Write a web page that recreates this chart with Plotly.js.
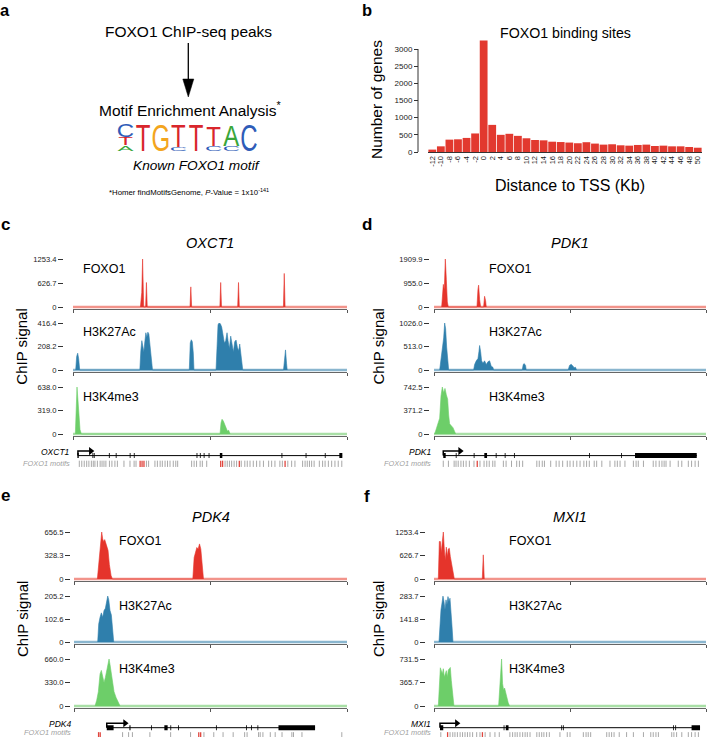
<!DOCTYPE html>
<html><head><meta charset="utf-8">
<script src="https://cdn.plot.ly/plotly-3.0.1.min.js"></script>
<style>html,body{margin:0;padding:0;background:#fff}#chart{width:707px;height:737px}</style>
</head><body><div id="chart"></div>
<script>
// ================= DATA =================
// Panel b: FOXO1 binding sites vs distance to TSS
const tssBins = [-12,-10,-8,-6,-4,-2,0,2,4,6,8,10,12,14,16,18,20,22,24,26,28,30,32,34,36,38,40,42,44,46,48,50];
const geneCounts = [70,165,360,370,410,540,3250,790,500,530,470,400,350,340,300,290,275,255,285,245,215,225,195,185,205,215,175,185,165,165,145,125];
const countTicks = [0,500,1000,1500,2000,2500,3000];

// Panel a: motif logo (column, letter, bottom in bits, height in bits)
const logoCol    = [1,1,1,2,3,4,4,5,6,6,7,7,8];
const logoLetter = ['A','T','C','T','G','C','T','T','C','T','C','A','C'];
const logoBottom = [0,0.4,1.0,0,0,0,0.3,0,0,0.4,0,0.35,0];
const logoHeight = [0.4,0.6,0.95,2.0,2.0,0.3,1.65,1.95,0.35,1.5,0.35,1.6,2.0];

// Track names
const trackNames = ['FOXO1','H3K27Ac','H3K4me3'];

// ---- OXCT1 ----
const oxct1Max = [1253.4, 416.4, 638.0];
const oxct1Ticks = [['0','626.7','1253.4'],['0','208.2','416.4'],['0','319.0','638.0']];
const oxct1FoxoX = [24.6,25.1,25.4,25.8,26.5,26.8,27.1,42.7,43.0,43.3,53.6,53.9,54.2,60.1,60.4,60.7,76.8,77.1,77.4];
const oxct1FoxoY = [0,380,1253,0,0,640,0,0,526,0,0,640,0,0,640,0,0,876,0];
const oxct1K27X = [0.98,1.34,1.71,2.07,2.44, 24.39,24.76,25.12,25.49,25.85,26.22,26.59,26.95,27.32,27.68,28.05,28.41,28.78,29.02, 42.44,42.80,43.17,43.54,43.90,44.15, 52.20,52.56,52.93,53.29,53.78,54.27,54.76,55.24,55.73,56.22,56.59,57.07,57.56,58.05,58.54,59.02,59.51,60.00,60.49,60.85,61.22,61.59,61.95, 76.83,77.20,77.56,77.93,78.17];
const oxct1K27Y = [0,120,149,100,0, 0,170,260,210,160,250,330,290,335,320,240,190,110,0, 0,240,268,250,150,0, 0,250,400,416,410,380,300,240,260,330,260,190,300,220,160,250,265,200,170,230,130,70,0, 0,130,178,60,0];
const oxct1K4X = [0.85,1.10,1.46,1.83,2.20,2.56,3.05, 53.66,54.02,54.39,54.88,55.37,55.85,56.34,56.83,57.32];
const oxct1K4Y = [0,300,638,450,200,60,0, 0,150,200,175,130,80,40,50,0];
const oxct1Span = [1.8, 98.2];
const oxct1TssEnd = 6.5;
const oxct1ExonStart = [1.6,7.1,7.6,13.1,15.6,20.7,22.2,45.1,46.3,47.7,49.5,53.6,76.1,84.9,91.9,97.2];
const oxct1ExonEnd   = [2.1,7.4,7.9,13.4,15.9,21.0,22.5,45.4,46.6,48.0,49.8,54.5,76.4,85.2,92.2,98.3];
const oxct1Motifs = [2.3,3.2,4.1,5.0,5.8,6.7,7.4,8.0,8.9,9.9,10.6,11.3,12.0,13.3,14.2,15.3,16.2,18.6,20.8,22.3,23.0,26.8,27.6,29.9,30.8,31.8,32.6,33.6,34.5,35.4,36.6,37.5,38.2,43.3,44.2,45.1,46.4,47.2,48.8,55.5,56.3,57.1,57.9,58.8,59.7,61.4,62.7,63.6,64.6,65.8,67.0,68.2,69.5,71.4,72.5,73.7,75.5,76.4,78.4,79.8,81.0,83.8,84.7,85.5,86.3,87.1,88.0,89.9,91.1,92.0,93.2,94.4,95.6,96.8,98.1];
const oxct1MotifsTop = [24.5,25.2,25.9,53.9,54.6,60.7,77.4];

// ---- PDK1 ----
const pdk1Max = [1909.9, 1026.0, 742.5];
const pdk1Ticks = [['0','955.0','1909.9'],['0','513.0','1026.0'],['0','371.2','742.5']];
const pdk1FoxoX = [2.82,3.18,3.43,3.79,4.16,4.53,4.90,5.26, 15.79,16.16,16.40,16.77,17.14, 18.24,18.60,18.97,19.22];
const pdk1FoxoY = [0,600,900,700,1909,1100,200,0, 0,700,870,300,0, 0,427,250,0];
const pdk1K27X = [2.08,2.57,3.06,3.55,3.92,4.28,4.65,5.02,5.39, 14.57,14.93,15.54,16.16,16.52,16.77,17.14,17.50,17.99,18.60,19.22,19.83,20.44,21.05,21.66,21.91, 32.44,32.80,33.17,33.66,33.90, 49.33,49.82,50.43,51.04,51.53,52.02,52.39];
const pdk1K27Y = [0,200,400,700,1026,900,500,200,0, 0,120,200,250,400,535,400,200,150,200,120,180,200,80,60,0, 0,120,140,100,0, 0,100,125,90,50,60,0];
const pdk1K4X = [0.24,0.86,1.47,2.08,2.57,3.06,3.55,4.04,4.53,5.02,5.39,5.75,6.36,6.98,7.59,7.96];
const pdk1K4Y = [0,80,150,250,600,742,650,720,620,550,300,160,130,100,40,0];
const pdk1Span = [3.4, 96.6];
const pdk1TssEnd = 9.6;
const pdk1ExonStart = [3.4,8.0,14.6,18.5,22.7,26.0,29.4,57.0,68.8,73.9];
const pdk1ExonEnd   = [4.3,8.3,14.9,19.5,23.0,26.3,29.7,57.3,69.1,96.6];
const pdk1Motifs = [3.4,5.3,7.4,8.1,8.9,9.9,10.8,11.8,13.0,14.7,16.9,18.4,19.4,20.3,21.6,22.4,25.5,26.5,28.5,30.4,31.4,32.6,37.8,38.7,39.8,40.6,42.9,44.9,46.0,47.3,49.0,50.0,51.2,52.5,53.7,55.1,56.1,57.1,58.9,59.8,61.7,64.7,66.5,67.4,68.4,70.2,73.3,74.3,75.1,77.0,80.6,81.6,82.8,83.8,84.6,85.3,86.8,89.8,91.1,93.5,94.7,96.0,97.2];
const pdk1MotifsTop = [15.9];

// ---- PDK4 ----
const pdk4Max = [656.5, 205.2, 660.0];
const pdk4Ticks = [['0','328.3','656.5'],['0','102.6','205.2'],['0','330.0','660.0']];
const pdk4FoxoX = [8.56,9.05,9.41,9.78,10.15,10.51,10.88,11.25,11.61,11.98,12.47,12.96,13.57,14.06, 43.52,44.01,44.50,44.99,45.48,45.97,46.45,46.94,47.43];
const pdk4FoxoY = [0,200,400,500,656,560,520,550,500,480,400,200,50,0, 0,300,380,440,420,490,420,200,0];
const pdk4K27X = [8.68,9.05,9.54,10.02,10.51,11.00,11.49,11.98,12.35,12.71,13.20,13.69,14.18,14.55];
const pdk4K27Y = [0,80,110,130,110,140,150,180,205,190,140,120,50,0];
const pdk4K4X = [7.70,8.31,8.92,9.54,10.02,10.51,11.00,11.49,11.98,12.47,12.84,13.20,13.69,14.18,14.67,15.40,16.14,16.87];
const pdk4K4Y = [0,80,200,450,500,420,330,400,500,600,660,580,450,300,200,120,60,0];
const pdk4Span = [12.0, 88.3];
const pdk4TssEnd = 18.7;
const pdk4ExonStart = [12.0,20.3,28.2,33.1,35.3,38.1,52.0,63.0,64.9,67.2,74.9];
const pdk4ExonEnd   = [14.5,20.7,28.5,34.3,35.6,38.4,52.3,63.3,65.2,67.5,88.3];
const pdk4Motifs = [17.8,20.0,21.4,27.8,35.4,42.7,47.6,51.2,54.6,58.3,62.5,63.4,67.6,68.2,69.2,71.9,73.7,76.2,79.8,80.4,83.5,98.1];
const pdk4MotifsTop = [9.0,9.6,45.7,46.4];

// ---- MXI1 ----
const mxi1Max = [1253.4, 283.7, 731.5];
const mxi1Ticks = [['0','626.7','1253.4'],['0','141.8','283.7'],['0','365.7','731.5']];
const mxi1FoxoX = [1.59,1.96,2.33,2.69,3.06,3.43,3.79,4.16,4.53,4.90,5.26,5.63,6.00,6.49,6.98,7.47, 17.75,18.12,18.48];
const mxi1FoxoY = [0,1000,1000,700,1000,1253,800,500,850,600,800,820,600,400,150,0, 0,644,0];
const mxi1K27X = [1.84,2.20,2.57,2.94,3.30,3.67,4.04,4.41,4.77,5.14,5.51,5.88,6.24,6.61,6.98];
const mxi1K27Y = [0,150,200,240,283,250,200,260,230,280,250,270,200,100,0];
const mxi1K4X = [1.59,1.96,2.33,2.69,3.06,3.43,3.79,4.16,4.53,4.90,5.26,5.63,6.00,6.36,6.85,7.34, 23.75,24.11,24.48,24.85,25.21,25.58,25.95,26.32,26.81,27.29,27.78];
const mxi1K4Y = [0,450,595,550,500,580,450,500,550,450,560,580,600,400,150,0, 0,200,500,731,350,250,280,200,100,50,0];
const mxi1Span = [2.2, 97.8];
const mxi1TssEnd = 8.4;
const mxi1ExonStart = [2.2,25.6,26.4,46.8,47.4,87.9,88.7,94.7];
const mxi1ExonEnd   = [3.4,25.9,27.4,47.1,47.7,88.2,89.0,97.8];
const mxi1Motifs = [2.5,5.9,6.9,7.7,8.6,9.6,10.5,11.4,12.3,13.2,14.2,15.7,16.9,18.8,20.6,22.4,24.0,27.9,28.9,29.8,30.6,31.6,32.6,33.5,34.3,35.3,37.8,38.7,39.6,40.4,41.4,42.4,46.3,49.0,50.0,54.9,55.9,56.7,57.6,63.5,64.4,65.3,66.2,68.1,70.8,73.3,77.0,79.7,80.6,81.6,82.5,87.4,88.2,89.2,91.1,93.5,94.7,96.0,97.2];
const mxi1MotifsTop = [5.0,17.8];

// ================= STYLE / LAYOUT =================
const FONT = '"Liberation Sans", Arial, Helvetica, sans-serif';
const W = 707, H = 737;
const px2x = p => Math.max(0, Math.min(1, p / W));
const px2y = p => Math.max(0, Math.min(1, 1 - p / H));
const TRACK_COL = ['#e5342b', '#2f7fac', '#6dce69'];
const BASE_COL = ['#f2948b', '#8ab6cf', '#a9dfa6'];
const LOGO_COL = {A:'#3aa63a', C:'#2f5cb8', G:'#f3a51d', T:'#d9262c'};

const traces = [];
const layout = {
  width: W, height: H, margin: {l:0, r:0, t:0, b:0}, showlegend: false,
  paper_bgcolor: '#fff', plot_bgcolor: 'rgba(0,0,0,0)',
  font: {family: FONT, color: '#000'}, annotations: [], shapes: []
};
let nAx = 0;
function newAxes(xDom, yDom, xOpt, yOpt) {
  nAx++;
  const s = nAx === 1 ? '' : String(nAx);
  layout['xaxis' + s] = Object.assign({domain: [px2x(xDom[0]), px2x(xDom[1])], anchor: 'y' + s,
    showgrid: false, zeroline: false, fixedrange: true, automargin: false}, xOpt);
  layout['yaxis' + s] = Object.assign({domain: [px2y(yDom[1]), px2y(yDom[0])], anchor: 'x' + s,
    showgrid: false, zeroline: false, fixedrange: true, automargin: false}, yOpt);
  return {xaxis: 'x' + s, yaxis: 'y' + s};
}
function txt(text, x, base, size, o) {
  o = o || {};
  const a = {text: text, xref: 'paper', yref: 'paper', showarrow: false, borderpad: 0,
    x: x / W, y: 1 - (o.angle ? base : base - 0.35 * size) / H,
    xanchor: o.anchor || 'center', yanchor: 'middle',
    font: {family: FONT, size: size, color: o.color || '#000', style: o.italic ? 'italic' : 'normal', weight: o.bold ? 'bold' : 'normal'}};
  if (o.angle) a.textangle = o.angle;
  layout.annotations.push(a);
}

// ---------- Panel b: bar chart ----------
{
  const ax = newAxes([428, 702], [40, 152],
    {range: [-13, 51], showline: true, linecolor: '#333', linewidth: 1, ticks: '',
     tickvals: tssBins, ticktext: tssBins.map(String), tickangle: -90, tickfont: {size: 7.5, color: '#222'}},
    {range: [0, 3262], anchor: 'free', position: 418 / W, showline: false, ticks: 'outside', ticklen: 4,
     tickcolor: '#333', tickvals: countTicks, ticktext: countTicks.map(String), tickfont: {size: 8, color: '#222'}});
  traces.push({type: 'bar', x: tssBins, y: geneCounts, width: 1.82, marker: {color: '#e2392f'},
    xaxis: ax.xaxis, yaxis: ax.yaxis, hoverinfo: 'skip'});
  layout.shapes.push({type: 'line', xref: 'paper', yref: ax.yaxis, x0: 418 / W, x1: 418 / W,
    y0: countTicks[0], y1: countTicks[countTicks.length - 1], line: {color: '#333', width: 1}});
  txt('b', 367, 15.5, 16.5, {bold: true});
  txt('FOXO1 binding sites', 565, 37.5, 14.2);
  txt('Number of genes', 376, 100, 15.5, {angle: -90});
  txt('Distance to TSS (Kb)', 570, 191.5, 16);
}

// ---------- Panel a: flow + motif logo ----------
const LOGO_FS = 24, PX_PER_BIT = 13.5, CAP = 0.716;
{
  txt('a', 5, 15.5, 16.5, {bold: true});
  txt('FOXO1 ChIP-seq peaks', 188.5, 36.5, 15.5);
  layout.shapes.push({type: 'line', xref: 'paper', yref: 'paper', x0: 188.3 / W, x1: 188.3 / W,
    y0: 1 - 43 / H, y1: 1 - 81 / H, line: {color: '#000', width: 1.3}});
  layout.shapes.push({type: 'path', xref: 'paper', yref: 'paper',
    path: 'M ' + (182.8 / W) + ' ' + (1 - 79 / H) + ' L ' + (193.8 / W) + ' ' + (1 - 79 / H) + ' L ' + (188.3 / W) + ' ' + (1 - 97 / H) + ' Z',
    fillcolor: '#000', line: {color: '#000', width: 0.5}});
  txt('Motif Enrichment Analysis<sup>*</sup>', 190, 114.4, 15.5);
  const ax = newAxes([116.7, 257.8], [125, 152], {range: [0.5, 8.5], visible: false}, {range: [0, 2], visible: false});
  traces.push({type: 'scatter', mode: 'text', x: logoCol, y: logoBottom,
    text: logoLetter, textposition: 'middle center', cliponaxis: false,
    textfont: {size: LOGO_FS, family: FONT, color: logoLetter.map(l => LOGO_COL[l])},
    xaxis: ax.xaxis, yaxis: ax.yaxis, hoverinfo: 'skip'});
  txt('Known FOXO1 motif', 196, 170.5, 13.7, {italic: true});
  txt('*Homer findMotifsGenome, <i>P</i>-Value = 1x10<sup>-141</sup>', 189, 194.5, 7.8);
}

// ---------- Panels c-f: ChIP tracks ----------
const panels = [
  {name: 'OXCT1', letter: 'c', x0: 73, x1: 347, axisX: 63, letterX: 5, letterBase: 230, titleX: 210, titleBase: 248.3,
   chipX: 22, chipY: 346.7, labelX: 81.7, tops: [259, 323, 387], zeros: [307, 370, 434], labBases: [273.3, 336.7, 401.5],
   geneY: 455.6, motifY: 463.8, nameRight: 71,
   maxes: oxct1Max, ticks: oxct1Ticks, xs: [oxct1FoxoX, oxct1K27X, oxct1K4X], ys: [oxct1FoxoY, oxct1K27Y, oxct1K4Y],
   span: oxct1Span, tss: oxct1TssEnd, exS: oxct1ExonStart, exE: oxct1ExonEnd, motifs: oxct1Motifs, motifsTop: oxct1MotifsTop},
  {name: 'PDK1', letter: 'd', x0: 434, x1: 706, axisX: 429, letterX: 367, letterBase: 230, titleX: 570, titleBase: 248.3,
   chipX: 378, chipY: 346.5, labelX: 488, tops: [259, 323, 387], zeros: [307, 370, 434], labBases: [273.3, 336.7, 401.5],
   geneY: 455.6, motifY: 463.8, nameRight: 432,
   maxes: pdk1Max, ticks: pdk1Ticks, xs: [pdk1FoxoX, pdk1K27X, pdk1K4X], ys: [pdk1FoxoY, pdk1K27Y, pdk1K4Y],
   span: pdk1Span, tss: pdk1TssEnd, exS: pdk1ExonStart, exE: pdk1ExonEnd, motifs: pdk1Motifs, motifsTop: pdk1MotifsTop},
  {name: 'PDK4', letter: 'e', x0: 74, x1: 347, axisX: 70, letterX: 5, letterBase: 501, titleX: 211, titleBase: 521.7,
   chipX: 22, chipY: 619, labelX: 118.3, tops: [532, 596, 659], zeros: [579, 642, 706], labBases: [545, 610, 673.3],
   geneY: 727.7, motifY: 735.3, nameRight: 72,
   maxes: pdk4Max, ticks: pdk4Ticks, xs: [pdk4FoxoX, pdk4K27X, pdk4K4X], ys: [pdk4FoxoY, pdk4K27Y, pdk4K4Y],
   span: pdk4Span, tss: pdk4TssEnd, exS: pdk4ExonStart, exE: pdk4ExonEnd, motifs: pdk4Motifs, motifsTop: pdk4MotifsTop},
  {name: 'MXI1', letter: 'f', x0: 434, x1: 706, axisX: 425, letterX: 367, letterBase: 502, titleX: 570, titleBase: 521.7,
   chipX: 378, chipY: 619, labelX: 508, tops: [532, 596, 659], zeros: [579, 642, 706], labBases: [545, 610, 673.3],
   geneY: 727.7, motifY: 735.3, nameRight: 432,
   maxes: mxi1Max, ticks: mxi1Ticks, xs: [mxi1FoxoX, mxi1K27X, mxi1K4X], ys: [mxi1FoxoY, mxi1K27Y, mxi1K4Y],
   span: mxi1Span, tss: mxi1TssEnd, exS: mxi1ExonStart, exE: mxi1ExonEnd, motifs: mxi1Motifs, motifsTop: mxi1MotifsTop}
];

panels.forEach(p => {
  txt(p.letter, p.letterX, p.letterBase, 17, {bold: true});
  txt(p.name, p.titleX, p.titleBase, 14.5, {italic: true});
  txt('ChIP signal', p.chipX, p.chipY, 15, {angle: -90});
  for (let k = 0; k < 3; k++) {
    const mx = p.maxes[k];
    const gap = 2;
    const pad = gap / (p.zeros[k] - p.tops[k]) * mx;
    const ax = newAxes([p.x0, p.x1], [p.tops[k], p.zeros[k] + gap],
      {range: [0, 100], showline: true, linecolor: '#666', linewidth: 1.4, ticks: 'outside', ticklen: 3,
       tickwidth: 1, tickcolor: '#555', tickvals: [0, 50, 100], showticklabels: false},
      {range: [-pad, mx], anchor: 'free', position: p.axisX / W, showline: false, ticks: 'outside', ticklen: 5,
       tickwidth: 1, tickcolor: '#333', tickvals: [0, mx / 2, mx], ticktext: p.ticks[k],
       tickfont: {size: 7.6, color: '#222'}});
    traces.push({type: 'scatter', mode: 'lines', x: [0, 100], y: [0, 0],
      line: {color: BASE_COL[k], width: 2.4}, xaxis: ax.xaxis, yaxis: ax.yaxis, hoverinfo: 'skip'});
    traces.push({type: 'scatter', mode: 'lines', x: p.xs[k], y: p.ys[k], fill: 'tozeroy',
      fillcolor: TRACK_COL[k], line: {color: TRACK_COL[k], width: 0.6},
      xaxis: ax.xaxis, yaxis: ax.yaxis, hoverinfo: 'skip'});
    txt(trackNames[k], p.labelX, p.labBases[k], 12.5, {anchor: 'left'});
  }
  // gene model + motifs
  const T = p.geneY - 8, B = Math.min(p.motifY + 4, H);
  const yOf = px => (p.motifY - px) / (p.motifY - p.geneY);
  const ax = newAxes([p.x0, p.x1], [T, B], {range: [0, 100], visible: false}, {range: [yOf(B), yOf(T)], visible: false});
  const common = {xaxis: ax.xaxis, yaxis: ax.yaxis, hoverinfo: 'skip', cliponaxis: false};
  traces.push(Object.assign({type: 'scatter', mode: 'lines', x: p.span, y: [1, 1], line: {color: '#000', width: 1}}, common));
  const ex = [], ey = [];
  p.exS.forEach((s, i) => { ex.push(s, p.exE[i], null); ey.push(1, 1, null); });
  traces.push(Object.assign({type: 'scatter', mode: 'lines', x: ex, y: ey, line: {color: '#000', width: 5}}, common));
  const rise = 1 + 4.5 / (p.motifY - p.geneY);
  traces.push(Object.assign({type: 'scatter', mode: 'lines', x: [p.span[0], p.span[0], p.tss], y: [1, rise, rise],
    line: {color: '#000', width: 1.5}}, common));
  traces.push(Object.assign({type: 'scatter', mode: 'markers', x: [p.tss], y: [rise],
    marker: {symbol: 'triangle-right', size: 7, color: '#000'}}, common));
  traces.push(Object.assign({type: 'scatter', mode: 'markers', x: p.motifs, y: p.motifs.map(() => 0),
    marker: {symbol: 'line-ns', size: 4.5, color: '#a8a8a8', line: {width: 1, color: '#a8a8a8'}}}, common));
  traces.push(Object.assign({type: 'scatter', mode: 'markers', x: p.motifsTop, y: p.motifsTop.map(() => 0),
    marker: {symbol: 'line-ns', size: 4.5, color: '#e0463e', line: {width: 1.3, color: '#e0463e'}}}, common));
  txt(p.name, p.nameRight, p.geneY - 0.5, 8.5, {anchor: 'right', italic: true});
  txt('FOXO1 motifs', p.nameRight, Math.min(p.motifY + 1.8, 734.8), 7.4, {anchor: 'right', italic: true, color: '#a0a0a0'});
});

const gd = document.getElementById('chart');
Plotly.newPlot(gd, traces, layout, {staticPlot: true, displayModeBar: false}).then(() => {
  // Sequence-logo style: stretch each letter vertically so its glyph spans its bit height,
  // keeping the glyph baseline on the letter's stack bottom.
  const texts = gd.querySelectorAll('g.textpoint text');
  const lift = 0.25 * LOGO_FS + 1;   // 'middle center' draws the baseline 0.25em below the data point
  texts.forEach((t, i) => {
    if (i >= logoHeight.length) return;
    const bb = t.getBBox();
    if (!bb || !bb.height) return;
    const cx = bb.x + bb.width / 2;
    const baseline = bb.y + 0.905 * LOGO_FS;
    const sy = logoHeight[i] * PX_PER_BIT / (CAP * LOGO_FS);
    const prev = t.getAttribute('transform') || '';
    t.setAttribute('transform', prev + ' translate(0,' + (-lift) + ') translate(' + cx + ',' + baseline + ') scale(1,' + sy.toFixed(4) + ') translate(' + (-cx) + ',' + (-baseline) + ')');
  });
});
</script>
</body></html>
